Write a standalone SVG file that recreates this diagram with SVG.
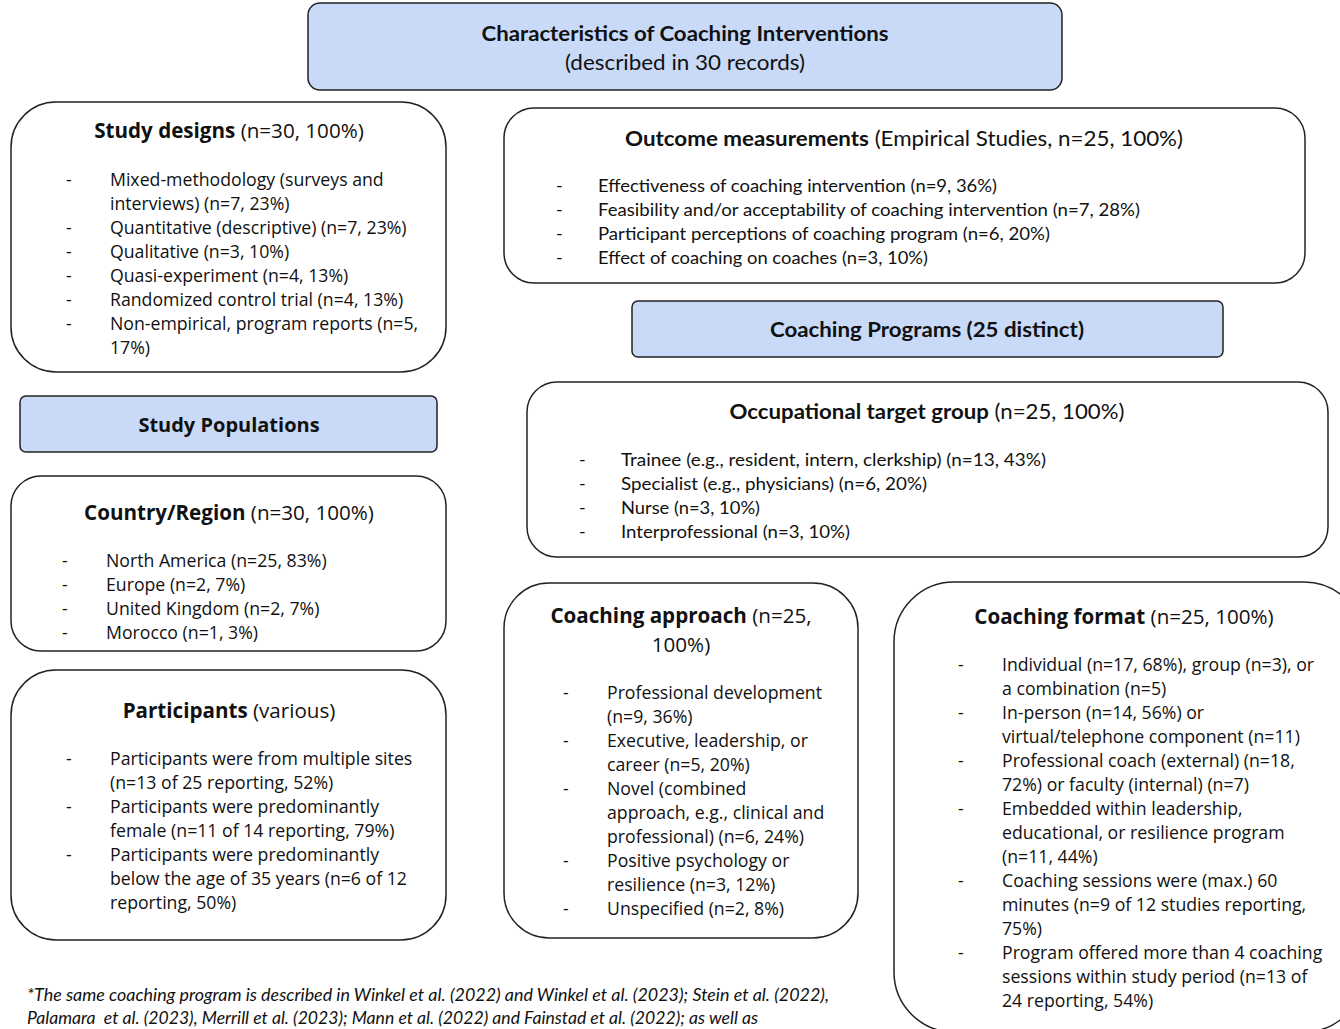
<svg xmlns="http://www.w3.org/2000/svg" width="1340" height="1029" viewBox="0 0 1340 1029">
<style>
.box{fill:#ffffff;stroke:#222;stroke-width:1.5}
.hdr{fill:#c9daf8;stroke:#222;stroke-width:1.5}
.os{font-family:"Open Sans","Noto Sans",sans-serif;font-size:17.7px;fill:#111}
.ost{font-family:"Open Sans","Noto Sans",sans-serif;font-size:20.6px;fill:#111}
.cal{font-family:Lato,"Open Sans",sans-serif;font-size:18px;fill:#111}
.calt{font-family:Lato,"Open Sans",sans-serif;font-size:21px;fill:#111}
.b{font-weight:bold}
.mid{text-anchor:middle}
.it{font-style:italic}
</style>
<g id="connectors"></g>

<g id="title">
<rect class="hdr" x="308" y="3" width="754" height="87" rx="12"/>
<text class="calt b mid" x="685" y="41" textLength="407" lengthAdjust="spacingAndGlyphs">Characteristics of Coaching Interventions</text>
<text class="calt mid" x="685" y="70" textLength="240" lengthAdjust="spacingAndGlyphs">(described in 30 records)</text>
</g>

<g id="study-designs">
<rect class="box" x="11" y="102" width="435" height="270" rx="45"/>
<text class="ost mid" x="229" y="138"><tspan class="b">Study designs</tspan> (n=30, 100%)</text>
<text class="os" x="66" y="186">-</text><text class="os" x="110" y="186">Mixed-methodology (surveys and</text>
<text class="os" x="110" y="210">interviews) (n=7, 23%)</text>
<text class="os" x="66" y="234">-</text><text class="os" x="110" y="234">Quantitative (descriptive) (n=7, 23%)</text>
<text class="os" x="66" y="258">-</text><text class="os" x="110" y="258">Qualitative (n=3, 10%)</text>
<text class="os" x="66" y="282">-</text><text class="os" x="110" y="282">Quasi-experiment (n=4, 13%)</text>
<text class="os" x="66" y="306">-</text><text class="os" x="110" y="306">Randomized control trial (n=4, 13%)</text>
<text class="os" x="66" y="330">-</text><text class="os" x="110" y="330">Non-empirical, program reports (n=5,</text>
<text class="os" x="110" y="354">17%)</text>
</g>

<g id="outcome-measurements">
<rect class="box" x="504" y="108" width="801" height="175" rx="30"/>
<text class="calt mid" x="904" y="146" textLength="558" lengthAdjust="spacingAndGlyphs"><tspan class="b">Outcome measurements</tspan> (Empirical Studies, n=25, 100%)</text>
<text class="cal" x="556" y="192">-</text><text class="cal" x="598" y="192" textLength="399" lengthAdjust="spacingAndGlyphs">Effectiveness of coaching intervention (n=9, 36%)</text>
<text class="cal" x="556" y="216">-</text><text class="cal" x="598" y="216" textLength="542" lengthAdjust="spacingAndGlyphs">Feasibility and/or acceptability of coaching intervention (n=7, 28%)</text>
<text class="cal" x="556" y="240">-</text><text class="cal" x="598" y="240" textLength="452" lengthAdjust="spacingAndGlyphs">Participant perceptions of coaching program (n=6, 20%)</text>
<text class="cal" x="556" y="264">-</text><text class="cal" x="598" y="264" textLength="330" lengthAdjust="spacingAndGlyphs">Effect of coaching on coaches (n=3, 10%)</text>
</g>

<g id="coaching-programs">
<rect class="hdr" x="632" y="301" width="591" height="56" rx="6"/>
<text class="calt b mid" x="927" y="337" textLength="314" lengthAdjust="spacingAndGlyphs">Coaching Programs (25 distinct)</text>
</g>

<g id="study-populations">
<rect class="hdr" x="20" y="396" width="417" height="56" rx="6"/>
<text class="ost b mid" x="229" y="432" style="font-size:20px">Study Populations</text>
</g>

<g id="occupational-target-group">
<rect class="box" x="527" y="382" width="801" height="175" rx="30"/>
<text class="calt mid" x="927" y="419" textLength="395" lengthAdjust="spacingAndGlyphs"><tspan class="b">Occupational target group</tspan> (n=25, 100%)</text>
<text class="cal" x="579" y="466">-</text><text class="cal" x="621" y="466" textLength="425" lengthAdjust="spacingAndGlyphs">Trainee (e.g., resident, intern, clerkship) (n=13, 43%)</text>
<text class="cal" x="579" y="490">-</text><text class="cal" x="621" y="490" textLength="306" lengthAdjust="spacingAndGlyphs">Specialist (e.g., physicians) (n=6, 20%)</text>
<text class="cal" x="579" y="514">-</text><text class="cal" x="621" y="514" textLength="139" lengthAdjust="spacingAndGlyphs">Nurse (n=3, 10%)</text>
<text class="cal" x="579" y="538">-</text><text class="cal" x="621" y="538" textLength="229" lengthAdjust="spacingAndGlyphs">Interprofessional (n=3, 10%)</text>
</g>

<g id="country-region">
<rect class="box" x="11" y="476" width="435" height="175" rx="30"/>
<text class="ost mid" x="229" y="520"><tspan class="b">Country/Region</tspan> (n=30, 100%)</text>
<text class="os" x="62" y="567">-</text><text class="os" x="106" y="567">North America (n=25, 83%)</text>
<text class="os" x="62" y="591">-</text><text class="os" x="106" y="591">Europe (n=2, 7%)</text>
<text class="os" x="62" y="615">-</text><text class="os" x="106" y="615">United Kingdom (n=2, 7%)</text>
<text class="os" x="62" y="639">-</text><text class="os" x="106" y="639">Morocco (n=1, 3%)</text>
</g>

<g id="participants">
<rect class="box" x="11" y="670" width="435" height="270" rx="45"/>
<text class="ost mid" x="229" y="718"><tspan class="b">Participants</tspan> (various)</text>
<text class="os" x="66" y="765">-</text><text class="os" x="110" y="765">Participants were from multiple sites</text>
<text class="os" x="110" y="789">(n=13 of 25 reporting, 52%)</text>
<text class="os" x="66" y="813">-</text><text class="os" x="110" y="813">Participants were predominantly</text>
<text class="os" x="110" y="837">female (n=11 of 14 reporting, 79%)</text>
<text class="os" x="66" y="861">-</text><text class="os" x="110" y="861">Participants were predominantly</text>
<text class="os" x="110" y="885">below the age of 35 years (n=6 of 12</text>
<text class="os" x="110" y="909">reporting, 50%)</text>
</g>

<g id="coaching-approach">
<rect class="box" x="504" y="583" width="354" height="355" rx="45"/>
<text class="ost mid" x="681" y="623"><tspan class="b">Coaching approach</tspan> (n=25,</text>
<text class="ost mid" x="681" y="652">100%)</text>
<text class="os" x="563" y="699">-</text><text class="os" x="607" y="699">Professional development</text>
<text class="os" x="607" y="723">(n=9, 36%)</text>
<text class="os" x="563" y="747">-</text><text class="os" x="607" y="747">Executive, leadership, or</text>
<text class="os" x="607" y="771">career (n=5, 20%)</text>
<text class="os" x="563" y="795">-</text><text class="os" x="607" y="795">Novel (combined</text>
<text class="os" x="607" y="819">approach, e.g., clinical and</text>
<text class="os" x="607" y="843">professional) (n=6, 24%)</text>
<text class="os" x="563" y="867">-</text><text class="os" x="607" y="867">Positive psychology or</text>
<text class="os" x="607" y="891">resilience (n=3, 12%)</text>
<text class="os" x="563" y="915">-</text><text class="os" x="607" y="915">Unspecified (n=2, 8%)</text>
</g>

<g id="coaching-format">
<rect class="box" x="894" y="582" width="470" height="450" rx="60"/>
<text class="ost mid" x="1124" y="624"><tspan class="b">Coaching format</tspan> (n=25, 100%)</text>
<text class="os" x="958" y="671">-</text><text class="os" x="1002" y="671">Individual (n=17, 68%), group (n=3), or</text>
<text class="os" x="1002" y="695">a combination (n=5)</text>
<text class="os" x="958" y="719">-</text><text class="os" x="1002" y="719">In-person (n=14, 56%) or</text>
<text class="os" x="1002" y="743">virtual/telephone component (n=11)</text>
<text class="os" x="958" y="767">-</text><text class="os" x="1002" y="767">Professional coach (external) (n=18,</text>
<text class="os" x="1002" y="791">72%) or faculty (internal) (n=7)</text>
<text class="os" x="958" y="815">-</text><text class="os" x="1002" y="815">Embedded within leadership,</text>
<text class="os" x="1002" y="839">educational, or resilience program</text>
<text class="os" x="1002" y="863">(n=11, 44%)</text>
<text class="os" x="958" y="887">-</text><text class="os" x="1002" y="887">Coaching sessions were (max.) 60</text>
<text class="os" x="1002" y="911">minutes (n=9 of 12 studies reporting,</text>
<text class="os" x="1002" y="935">75%)</text>
<text class="os" x="958" y="959">-</text><text class="os" x="1002" y="959">Program offered more than 4 coaching</text>
<text class="os" x="1002" y="983">sessions within study period (n=13 of</text>
<text class="os" x="1002" y="1007">24 reporting, 54%)</text>
</g>

<g id="footnote">
<text class="cal it" x="27" y="1001" font-size="16" textLength="802" lengthAdjust="spacingAndGlyphs">*The same coaching program is described in Winkel et al. (2022) and Winkel et al. (2023); Stein et al. (2022),</text>
<text class="cal it" x="27" y="1024" font-size="16" textLength="731" lengthAdjust="spacingAndGlyphs" xml:space="preserve">Palamara  et al. (2023), Merrill et al. (2023); Mann et al. (2022) and Fainstad et al. (2022); as well as</text>
</g>
</svg>
